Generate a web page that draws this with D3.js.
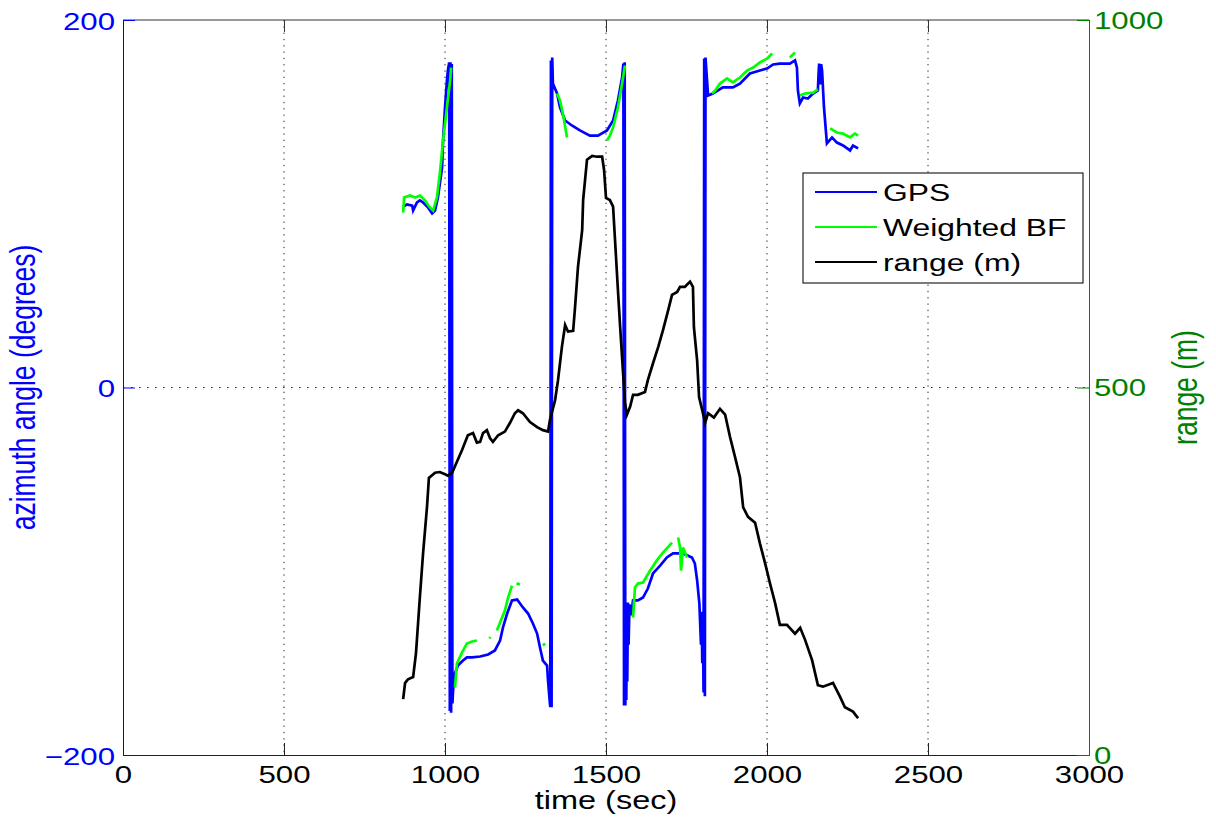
<!DOCTYPE html>
<html>
<head>
<meta charset="utf-8">
<script src="https://cdn.jsdelivr.net/npm/d3@7"></script>
<style>
  body { margin: 0; background: #fff; }
  svg text { font-family: "Liberation Sans", Arial, sans-serif; }
</style>
</head>
<body>
<div class="chart"></div>
<script>
//Size of the picture and the plot box
var w = 1216;
var h = 823;
var plotLeft = 123, plotRight = 1089, plotTop = 20, plotBottom = 755;
var sx = 1.3;   //text in the original is stretched sideways

//Axis ticks
var timeTicks = [0, 500, 1000, 1500, 2000, 2500, 3000];
var azTicks = [-200, 0, 200];
var rangeTicks = [0, 500, 1000];

//GPS azimuth (degrees) vs time (sec), wraps at +/-180
var gps = [
  [870, 98.5], [882, 99.6], [898, 99], [901, 96.3], [913, 100.7], [922, 101.8], [932, 100.7],
  [947, 98], [960, 94.7], [969, 96.3], [978, 103.4], [984, 111], [991, 119.7], [994, 134.4],
  [1000, 152.4], [1006, 167.1], [1009, 172.5], [1013, 176.9],
  [1015, -176], [1017, 177], [1019, -177], [1021, 176], [1023, -172],
  [1025, -164.9], [1031, -155.6], [1040, -151.3], [1056, -148.6], [1068, -146.9], [1084, -146.9],
  [1109, -146.4], [1134, -145.3], [1155, -143.1], [1171, -137.7], [1180, -130.6], [1193, -123],
  [1208, -115.9], [1224, -115.4], [1242, -119.7], [1258, -123], [1273, -128.4], [1286, -133.9],
  [1295, -141.5], [1304, -148.6], [1317, -151.3], [1320, -159.5], [1325, -170.3], [1327, -174],
  [1329, 178], [1331, -174], [1333, 179.6],
  [1335, 165.4], [1348, 160], [1357, 152.4], [1373, 145.3], [1394, 142.6], [1419, 139.9],
  [1450, 137.1], [1475, 137.1], [1503, 139.9], [1522, 145.3], [1537, 156.2], [1550, 168.7], [1554, 176.3],
  [1556, -173], [1558, 177], [1560, -173], [1562, -118], [1563, -170], [1565, -122], [1566, -160],
  [1568, -117], [1570, -140], [1573, -118],
  [1578, -124], [1584, -115.9], [1599, -115.9], [1615, -114.3], [1630, -109.4], [1646, -101.2],
  [1668, -96.9], [1689, -92.5], [1708, -90.3], [1739, -90.3], [1767, -92.5], [1776, -95.8],
  [1783, -105], [1790, -117.6], [1795, -140], [1797, -122], [1799, -150], [1801, -130], [1803, -166],
  [1805, 179], [1807, -168], [1809, 179.6],
  [1817, 158.9], [1832, 160], [1863, 163.3], [1894, 163.3], [1916, 165.4], [1947, 170.9],
  [1978, 172.5], [2000, 173.6], [2019, 175.8], [2040, 176.3], [2071, 176.3], [2087, 178],
  [2093, 174.1], [2096, 161.6], [2102, 154.6], [2112, 157.8], [2127, 157.3], [2143, 160],
  [2158, 161.6], [2160, 170], [2162, 176.3], [2165, 165], [2168, 176], [2171, 172.5],
  [2177, 152.4], [2186, 132.8], [2202, 136.1], [2217, 133.3], [2236, 131.7], [2258, 129],
  [2267, 131.7], [2283, 130.1]
];

//Weighted BF azimuth (degrees), null = gap
var weightedBF = [
  [870, 95.2], [873, 103.4], [891, 104.5], [907, 103.4], [922, 104.5], [938, 101.8], [953, 98],
  [963, 96.3], [975, 103.4], [984, 116.5], [994, 134.4], [1006, 152.4], [1016, 167.1], [1019, 174.1],
  null,
  [1031, -163.3], [1037, -150.2], [1053, -144.2], [1068, -139.3], [1084, -138.2], [1099, -137.7],
  null,
  [1138, -136.5], [1141, -135.8],
  null,
  [1161, -132.2], [1171, -127.9], [1186, -121.4], [1196, -114.3], [1208, -107.8],
  null,
  [1222, -106.5], [1233, -107.2],
  null,
  [1304, -140.4], [1311, -139.3],
  null,
  [1348, 160], [1357, 156.2], [1366, 149.1], [1379, 136.1],
  null,
  [1503, 134.4], [1512, 137.1], [1522, 141.5], [1537, 152.4], [1550, 165.4], [1559, 175.2],
  null,
  [1584, -125.2], [1590, -108.8], [1599, -106.7], [1615, -106.1], [1637, -99.6], [1658, -94.1],
  [1677, -89.8], [1705, -84.4],
  null,
  [1724, -81.6], [1730, -87.1], [1733, -99.6], [1739, -87.1], [1752, -92.5],
  null,
  [1829, 160], [1839, 161.6], [1854, 165.4], [1876, 168.2], [1894, 166], [1916, 168.7],
  [1938, 172.5], [1957, 174.1], [1978, 176.9], [2000, 179], [2016, 181.8],
  null,
  [2071, 179.6], [2087, 182.3],
  null,
  [2102, 158.9], [2118, 160], [2143, 160.5], [2158, 162.2],
  null,
  [2196, 141], [2217, 138.8], [2236, 138.2], [2258, 136.1], [2273, 138.2], [2283, 137.1]
];

//Range (m) vs time (sec)
var rangeM = [
  [870, 76], [876, 98], [885, 103], [901, 106], [910, 139], [922, 215], [932, 275], [944, 337],
  [950, 377], [969, 384], [984, 385], [1000, 382], [1009, 380], [1022, 384], [1037, 399],
  [1053, 415], [1071, 435], [1087, 438], [1099, 425], [1109, 426], [1118, 438], [1130, 442],
  [1140, 431], [1149, 426], [1165, 435], [1186, 440], [1202, 452], [1217, 465], [1227, 469],
  [1242, 465], [1264, 453], [1286, 446], [1304, 442], [1320, 440], [1326, 456], [1342, 483],
  [1351, 510], [1363, 555], [1373, 585], [1382, 576], [1398, 577], [1404, 610], [1413, 664],
  [1426, 714], [1429, 755], [1441, 810], [1457, 815], [1472, 814], [1488, 814], [1494, 796],
  [1500, 758], [1512, 755], [1522, 746], [1528, 701], [1537, 633], [1544, 582], [1553, 520],
  [1559, 479], [1565, 463], [1575, 474], [1584, 490], [1599, 490], [1621, 494], [1630, 510],
  [1646, 533], [1662, 555], [1677, 578], [1693, 605], [1705, 626], [1721, 630], [1730, 637],
  [1745, 637], [1761, 644], [1770, 637], [1773, 582], [1783, 537], [1789, 487], [1801, 465],
  [1808, 452], [1817, 465], [1835, 459], [1854, 471], [1870, 463], [1885, 433], [1901, 405],
  [1916, 378], [1926, 337], [1941, 324], [1963, 316], [1978, 288], [1994, 261], [2009, 234],
  [2025, 207], [2040, 177], [2062, 177], [2087, 165], [2103, 173], [2118, 157], [2140, 129],
  [2158, 95], [2174, 93], [2205, 98], [2227, 79], [2242, 65], [2267, 59], [2283, 50]
];

var svg = d3.select(".chart")
  .append("svg")
  .attr("width", w)
  .attr("height", h);

var xScale = d3.scaleLinear().domain([0, 3000]).range([plotLeft, plotRight]);
var yLeft = d3.scaleLinear().domain([-200, 200]).range([plotBottom, plotTop]);
var yRight = d3.scaleLinear().domain([0, 1000]).range([plotBottom, plotTop]);

//Grid: dotted verticals (black) and the zero line (blue)
svg.append("g")
  .selectAll("line")
  .data(timeTicks.slice(1, -1))
  .enter()
  .append("line")
  .attr("x1", d => xScale(d)).attr("x2", d => xScale(d))
  .attr("y1", plotTop).attr("y2", plotBottom)
  .attr("stroke", "#222")
  .attr("stroke-width", 1)
  .attr("stroke-dasharray", "1.3,5");

svg.append("line")
  .attr("x1", plotLeft).attr("x2", plotRight)
  .attr("y1", yLeft(0)).attr("y2", yLeft(0))
  .attr("stroke", "#0000ff")
  .attr("stroke-width", 1)
  .attr("stroke-dasharray", "1.5,6.5");

//Lines
var lineAz = d3.line()
  .defined(d => d !== null)
  .x(d => xScale(d[0]))
  .y(d => yLeft(d[1]));

var lineRange = d3.line()
  .x(d => xScale(d[0]))
  .y(d => yRight(d[1]));

svg.append("path")
  .datum(gps)
  .attr("d", lineAz)
  .attr("fill", "none")
  .attr("stroke", "#0000ff")
  .attr("stroke-width", 2.7);

svg.append("path")
  .datum(weightedBF)
  .attr("d", lineAz)
  .attr("fill", "none")
  .attr("stroke", "#00ff00")
  .attr("stroke-width", 2.7);

svg.append("path")
  .datum(rangeM)
  .attr("d", lineRange)
  .attr("fill", "none")
  .attr("stroke", "#000")
  .attr("stroke-width", 2.7);

//Frame top
svg.append("line")
  .attr("x1", plotLeft).attr("x2", plotRight).attr("y1", plotTop).attr("y2", plotTop)
  .attr("stroke", "#333").attr("stroke-width", 1);

//Axes
function stretchText(sel, dx, dy) {
  sel.attr("x", 0).attr("y", 0).attr("dy", null)
    .attr("transform", "translate(" + dx + "," + dy + ") scale(" + sx + ",1)");
}

var xAxis = svg.append("g")
  .attr("transform", "translate(0," + plotBottom + ")")
  .call(d3.axisBottom(xScale).tickValues(timeTicks).tickSize(-12).tickFormat(d3.format("d")));
xAxis.select(".domain").attr("stroke", "#222");
xAxis.selectAll(".tick line").attr("stroke", "#222");
xAxis.selectAll(".tick text")
  .attr("fill", "#000").attr("font-size", 24).attr("text-anchor", "middle")
  .call(stretchText, 0, 28);

var xAxisTop = svg.append("g")
  .attr("transform", "translate(0," + plotTop + ")")
  .call(d3.axisTop(xScale).tickValues(timeTicks).tickSize(-12).tickFormat(""));
xAxisTop.select(".domain").remove();
xAxisTop.selectAll(".tick line").attr("stroke", "#333");

var yAxisL = svg.append("g")
  .attr("transform", "translate(" + plotLeft + ",0)")
  .call(d3.axisLeft(yLeft).tickValues(azTicks).tickSize(-12).tickFormat(d3.format("d")));
yAxisL.select(".domain").attr("stroke", "#0000ff");
yAxisL.selectAll(".tick line").attr("stroke", "#0000ff");
yAxisL.selectAll(".tick text")
  .attr("fill", "#0000ff").attr("font-size", 24).attr("text-anchor", "end")
  .call(stretchText, -8, 9);

var yAxisR = svg.append("g")
  .attr("transform", "translate(" + plotRight + ",0)")
  .call(d3.axisRight(yRight).tickValues(rangeTicks).tickSize(-12).tickFormat(d3.format("d")));
yAxisR.select(".domain").attr("stroke", "#008000");
yAxisR.selectAll(".tick line").attr("stroke", "#008000");
yAxisR.selectAll(".tick text")
  .attr("fill", "#008000").attr("font-size", 24).attr("text-anchor", "start")
  .call(stretchText, 5, 8);

//Axis titles
svg.append("text")
  .attr("transform", "translate(" + ((plotLeft + plotRight) / 2) + ",809) scale(" + sx + ",1)")
  .attr("text-anchor", "middle")
  .attr("font-size", 25)
  .attr("fill", "#000")
  .text("time (sec)");

svg.append("text")
  .attr("transform", "translate(35," + ((plotTop + plotBottom) / 2) + ") scale(" + sx + ",1) rotate(-90)")
  .attr("text-anchor", "middle")
  .attr("font-size", 26.5)
  .attr("fill", "#0000ff")
  .text("azimuth angle (degrees)");

svg.append("text")
  .attr("transform", "translate(1197," + ((plotTop + plotBottom) / 2) + ") scale(" + sx + ",1) rotate(-90)")
  .attr("text-anchor", "middle")
  .attr("font-size", 26.5)
  .attr("fill", "#008000")
  .text("range (m)");

//Legend
var legendItems = [
  { name: "GPS", color: "#0000ff" },
  { name: "Weighted BF", color: "#00ff00" },
  { name: "range (m)", color: "#000" }
];

var legend = svg.append("g").attr("transform", "translate(803,173)");
legend.append("rect")
  .attr("width", 280).attr("height", 110)
  .attr("fill", "#fff").attr("stroke", "#222").attr("stroke-width", 1.2);

var rows = legend.selectAll(".row")
  .data(legendItems)
  .enter()
  .append("g")
  .attr("class", "row")
  .attr("transform", (d, i) => "translate(0," + (19 + i * 35) + ")");
rows.append("line")
  .attr("x1", 12).attr("x2", 74)
  .attr("stroke", d => d.color).attr("stroke-width", 2);
rows.append("text")
  .attr("transform", "translate(80,9) scale(" + sx + ",1)")
  .attr("font-size", 24.5)
  .attr("fill", "#000")
  .text(d => d.name);
</script>
</body>
</html>
